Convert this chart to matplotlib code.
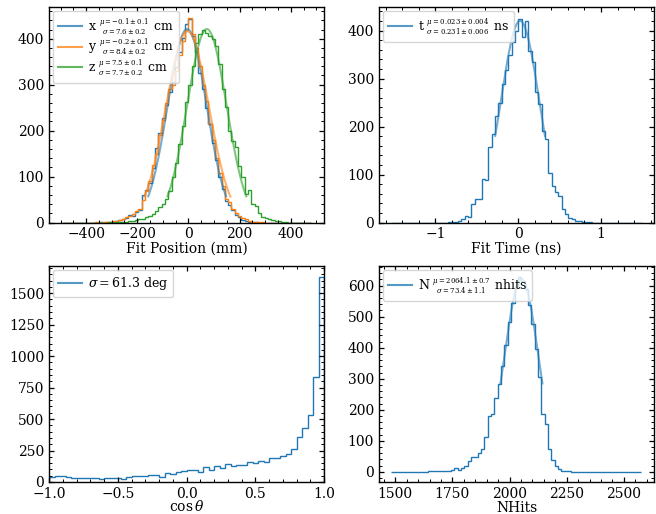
import numpy as np
import matplotlib
matplotlib.use('Agg')
import matplotlib.pyplot as plt
import matplotlib._mathtext as mathtext_internals
from matplotlib.lines import Line2D

plt.rcParams['font.family'] = 'DejaVu Serif'
plt.rcParams['mathtext.fontset'] = 'dejavuserif'
plt.rcParams['xtick.direction'] = 'in'
plt.rcParams['ytick.direction'] = 'in'
plt.rcParams['xtick.top'] = True
plt.rcParams['ytick.right'] = True
plt.rcParams['xtick.labelsize'] = 10
plt.rcParams['ytick.labelsize'] = 10
plt.rcParams['axes.labelsize'] = 10
plt.rcParams['axes.linewidth'] = 1.0
# smaller stacked mu/sigma in the legend labels
mathtext_internals.SHRINK_FACTOR = 0.55

# ---- fit position (mm), 75 bins ----
pos_edges = np.linspace(-496, 481, 76)
pos_x = [0]*9 + [0, 0, 1, 0, 1, 2, 2, 4, 5, 8,
                 10, 16, 14, 23, 28, 60, 70, 85, 118, 162,
                 195, 228, 255, 285, 305, 338, 372, 402, 432, 442,
                 405, 370, 325, 290, 250, 215, 172, 135, 100, 72,
                 47, 38, 27, 16, 11, 6, 4, 2, 1, 1,
                 0, 0, 0, 0, 0, 0, 0, 0, 0, 0] + [0]*6
pos_y = [0]*9 + [0, 1, 0, 1, 1, 2, 3, 3, 6, 7,
                 12, 15, 18, 25, 30, 50, 68, 90, 125, 150,
                 190, 222, 260, 290, 300, 330, 365, 395, 420, 445,
                 410, 380, 340, 300, 265, 215, 180, 140, 108, 80,
                 52, 44, 30, 20, 14, 10, 7, 4, 2, 2,
                 1, 1, 0, 0, 0, 0, 0, 0, 0, 0] + [0]*6
pos_z = [0]*9 + [0, 0, 0, 0, 0, 1, 0, 1, 1, 2,
                 1, 3, 4, 5, 8, 7, 12, 15, 18, 26,
                 33, 40, 52, 69, 98, 130, 170, 210, 262, 300,
                 340, 390, 410, 418, 412, 405, 400, 385, 345, 290,
                 252, 200, 178, 165, 122, 98, 62, 70, 40, 35,
                 20, 12, 9, 7, 5, 3, 3, 2, 1, 0] + [0]*6
# drawn fit curves (mm): amplitude, mu, sigma
pos_fits = {'x': (421, -5, 76), 'y': (416, -4, 84), 'z': (421, 72, 77)}
pos_labels = {'x': r'x $\genfrac{}{}{0}{1}{\mu = -0.1 \pm 0.1}{\sigma = 7.6 \pm 0.2}$ cm',
              'y': r'y $\genfrac{}{}{0}{1}{\mu = -0.2 \pm 0.1}{\sigma = 8.4 \pm 0.2}$ cm',
              'z': r'z $\genfrac{}{}{0}{1}{\mu = 7.5 \pm 0.1}{\sigma = 7.7 \pm 0.2}$ cm'}

# ---- fit time (ns), 75 bins ----
time_edges = np.linspace(-1.53, 1.49, 76)
time_counts = [0]*17 + [1, 2, 2, 3, 7, 14, 11, 38, 48, 50,
                        90, 88, 157, 185, 222, 250, 289, 317, 348, 376,
                        400, 424, 386, 420, 358, 334, 271, 247, 190, 175,
                        104, 77, 63, 56, 28, 18, 10, 7, 4, 4,
                        2, 1, 1] + [0]*15
time_fit = (420, 0.023, 0.231)
time_label = r't $\genfrac{}{}{0}{1}{\mu = 0.023 \pm 0.004}{\sigma = 0.231 \pm 0.006}$ ns'

# ---- cos theta, 50 bins ----
cos_edges = np.linspace(-1, 1, 51)
cos_counts = [42, 45, 47, 36, 33, 29, 34, 29, 33, 25,
              28, 31, 30, 27, 40, 44, 48, 50, 55, 52,
              42, 70, 66, 78, 88, 93, 98, 80, 119, 93,
              127, 111, 146, 125, 133, 133, 159, 151, 165, 159,
              191, 194, 204, 226, 265, 358, 430, 531, 831, 1632]
cos_label = r'$\sigma = 61.3$ deg'

# ---- nhits, 75 bins ----
nhit_edges = np.linspace(1481, 2577, 76)
nhit_counts = [0]*11 + [1, 1, 1, 2, 2, 3, 4, 6, 11,
                        7, 13, 19, 36, 46, 48, 59, 73, 111, 181,
                        186, 238, 284, 340, 408, 483, 543, 597, 629, 614,
                        588, 537, 478, 397, 305, 187, 154, 73, 38, 19,
                        9, 3, 2, 1] + [0]*21
nhit_fit = (622, 2052, 73.4)
nhit_label = r'N $\genfrac{}{}{0}{1}{\mu = 2064.1 \pm 0.7}{\sigma = 73.4 \pm 1.1}$ nhits'


def gaus_curve(ax, fit, nsig, color):
    a, mu, sig = fit
    xx = np.linspace(mu - nsig*sig, mu + nsig*sig, 200)
    ax.plot(xx, a*np.exp(-0.5*((xx - mu)/sig)**2), color=color, lw=1.5, alpha=0.6)


def handle(color):
    return Line2D([], [], color=color, lw=1.5, alpha=0.75)


def legend(ax, handles, labels):
    ax.legend(handles, labels, loc='upper left', fontsize=9, handlelength=1.9,
              borderaxespad=0.3, labelspacing=0.0, handletextpad=0.5)


fig, axs = plt.subplots(2, 2, figsize=(6.56, 5.14), dpi=100)
fig.subplots_adjust(left=0.0747, right=0.997, bottom=0.0623, top=0.9864,
                    wspace=0.2, hspace=0.204)

# position
ax = axs[0, 0]
cols = {'x': 'C0', 'y': 'C1', 'z': 'C2'}
for key, counts in zip(['x', 'y', 'z'], [pos_x, pos_y, pos_z]):
    ax.stairs(counts, pos_edges, color=cols[key], lw=1.0)
    gaus_curve(ax, pos_fits[key], 2.0, cols[key])
legend(ax, [handle(cols[k]) for k in 'xyz'], [pos_labels[k] for k in 'xyz'])
ax.set_xlim(-545, 530)
ax.set_ylim(0, 469)
ax.set_xticks([-400, -200, 0, 200, 400])
ax.set_xlabel('Fit Position (mm)', labelpad=0)

# time
ax = axs[0, 1]
ax.stairs(time_counts, time_edges, color='C0', lw=1.0)
gaus_curve(ax, time_fit, 1.3, 'C0')
legend(ax, [handle('C0')], [time_label])
ax.set_xlim(-1.68, 1.64)
ax.set_ylim(0, 449)
ax.set_xticks([-1, 0, 1])
ax.set_xlabel('Fit Time (ns)', labelpad=0)

# direction
ax = axs[1, 0]
ax.stairs(cos_counts, cos_edges, color='C0', lw=1.0)
legend(ax, [handle('C0')], [cos_label])
ax.set_xlim(-1, 1)
ax.set_ylim(0, 1712)
ax.set_yticks([0, 250, 500, 750, 1000, 1250, 1500])
ax.set_xlabel(r'$\cos\theta$', labelpad=-1)

# nhits
ax = axs[1, 1]
ax.stairs(nhit_counts, nhit_edges, color='C0', lw=1.0)
gaus_curve(ax, nhit_fit, 1.25, 'C0')
legend(ax, [handle('C0')], [nhit_label])
ax.set_xlim(1429, 2632)
ax.set_ylim(-33, 662)
ax.set_xticks([1500, 1750, 2000, 2250, 2500])
ax.set_xlabel('NHits', labelpad=0)

for ax in axs.flat:
    ax.minorticks_on()
    ax.tick_params(which='major', length=3.5, width=0.9)
    ax.tick_params(which='minor', length=2, width=0.7)

fig.savefig('out.png', dpi=100)
